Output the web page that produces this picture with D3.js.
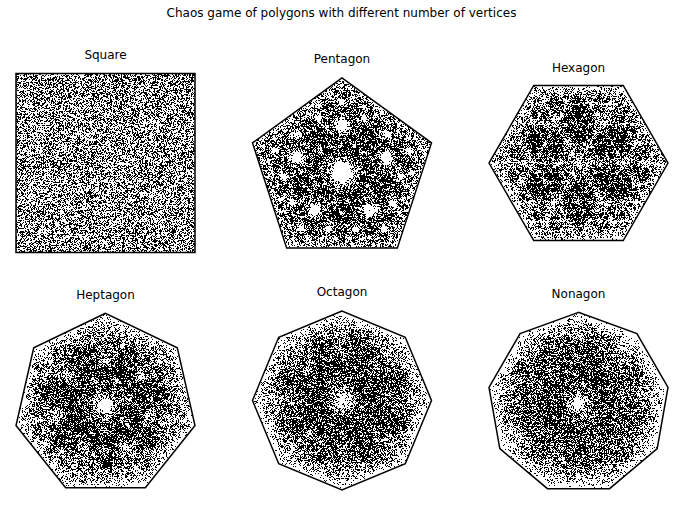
<!DOCTYPE html>
<html>
<head>
<meta charset="utf-8">
<script src="https://cdn.jsdelivr.net/npm/d3@7"></script>
<style>
  body { margin: 0; background: #fff; }
  text { font-family: "DejaVu Sans", sans-serif; fill: #000; }
</style>
</head>
<body>
<svg width="683" height="506"></svg>
<script>
// one panel per polygon, read left-to-right, top-to-bottom
const titles = ['Square', 'Pentagon', 'Hexagon', 'Heptagon', 'Octagon', 'Nonagon'];
const vertexCounts = [4, 5, 6, 7, 8, 9];
// angle (degrees) of the first vertex, so each shape sits like the reference
const startAngles = [45, 90, 0, 90, 90, 90];
const jumpRatio = 0.5;        // move halfway to the chosen vertex
const pointCount = 18000;     // points per polygon
const seed = 0.2718;

const W = 683, H = 506;
const PANEL_W = 179;
const colCenters = [105.5, 342, 578.5];
const rowCenters = [163, 400.5];

const svg = d3.select('svg');
svg.append('rect').attr('width', W).attr('height', H).attr('fill', '#fff');

svg.append('text')
    .attr('x', W / 2)
    .attr('y', 17)
    .attr('text-anchor', 'middle')
    .style('font-size', '12px')
    .text('Chaos game of polygons with different number of vertices');

const rand = d3.randomLcg(seed);

// vertices of a regular n-gon on the unit circle
function polygon(n, startDeg) {
    const start = startDeg * Math.PI / 180;
    return d3.range(n).map(k => {
        const a = start + 2 * Math.PI * k / n;
        return [Math.cos(a), Math.sin(a)];
    });
}

// the chaos game itself: jump part of the way to a random vertex
function chaosGame(verts) {
    let p = [0, 0];
    const pts = [];
    for (let i = 0; i < pointCount; i++) {
        const v = verts[Math.floor(rand() * verts.length)];
        p = [p[0] + (v[0] - p[0]) * jumpRatio, p[1] + (v[1] - p[1]) * jumpRatio];
        pts.push(p);
    }
    return pts;
}

vertexCounts.forEach((n, i) => {
    const verts = polygon(n, startAngles[i]);
    const pts = chaosGame(verts);
    const cx = colCenters[i % 3], cy = rowCenters[Math.floor(i / 3)];

    const xExt = d3.extent(verts, d => d[0]);
    const yExt = d3.extent(verts, d => d[1]);
    const k = PANEL_W / (xExt[1] - xExt[0]);       // equal aspect
    const h = (yExt[1] - yExt[0]) * k;

    const x = d3.scaleLinear().domain(xExt).range([cx - PANEL_W / 2, cx + PANEL_W / 2]);
    const y = d3.scaleLinear().domain(yExt).range([cy + h / 2, cy - h / 2]);

    const g = svg.append('g').attr('class', 'panel');

    g.append('g')
        .selectAll('rect')
        .data(pts)
        .join('rect')
        .attr('x', d => Math.floor(x(d[0])))
        .attr('y', d => Math.floor(y(d[1])))
        .attr('width', 1)
        .attr('height', 1)
        .attr('fill', '#000');

    g.append('path')
        .datum(verts)
        .attr('d', d3.line().x(d => x(d[0])).y(d => y(d[1])).curve(d3.curveLinearClosed))
        .attr('fill', 'none')
        .attr('stroke', '#000')
        .attr('stroke-width', 1.5)
        .attr('stroke-linejoin', 'miter');

    // title sits a little above the axes box (5% margin + pad)
    g.append('text')
        .attr('x', cx)
        .attr('y', cy - h / 2 - 0.05 * h - 6)
        .attr('text-anchor', 'middle')
        .style('font-size', '12px')
        .text(titles[i]);
});
</script>
</body>
</html>
